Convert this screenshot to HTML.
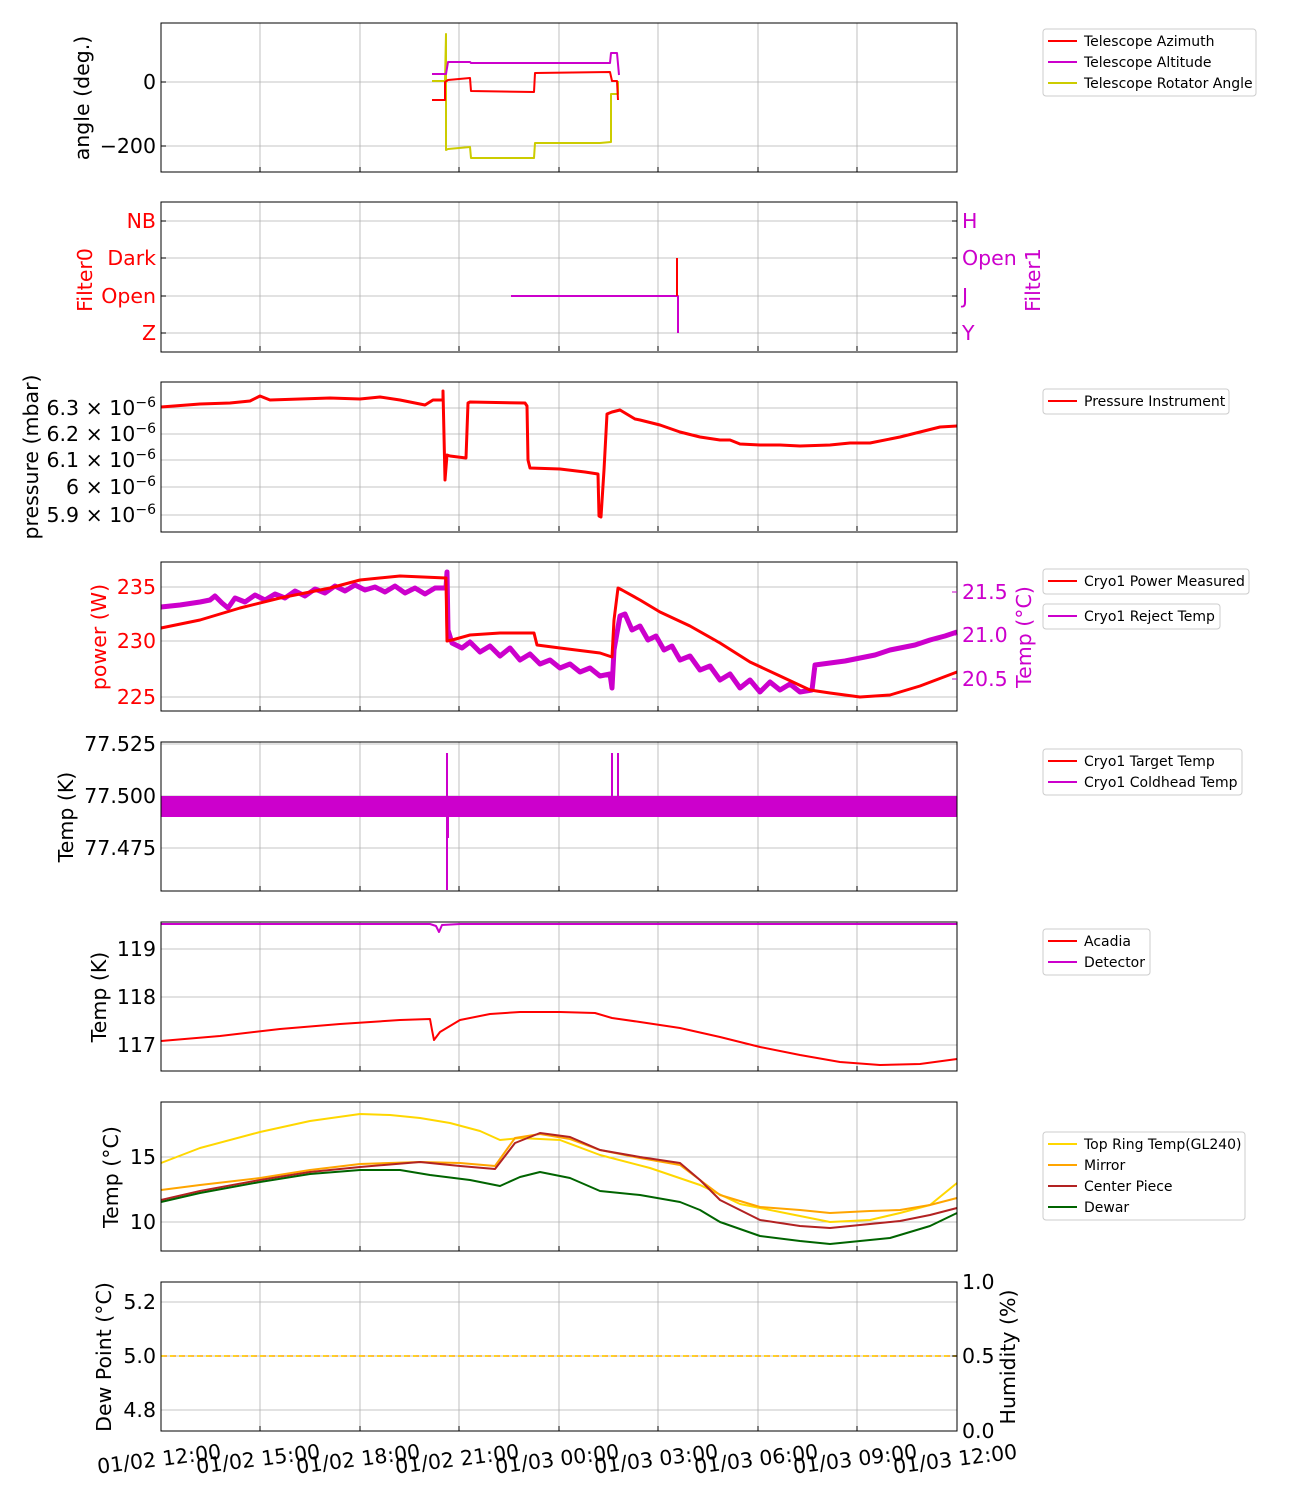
<!DOCTYPE html>
<html><head><meta charset="utf-8"><style>
html,body{margin:0;padding:0;background:#fff}
svg{display:block;font-family:"DejaVu Sans","Liberation Sans",sans-serif}
.g{stroke:#b0b0b0;stroke-width:0.8}
.fr{fill:none;stroke:#000;stroke-width:1}
.tl{font-size:20.5px}
.lg{font-size:14px}
.lb{fill:#fff;stroke:#ccc;stroke-width:1}
polyline{fill:none;stroke-linejoin:round}
</style></head><body>
<svg width="1300" height="1500" viewBox="0 0 1300 1500" xmlns="http://www.w3.org/2000/svg">
<defs>
<g id="vg">
<line class="g" x1="260" y1="0" x2="260" y2="149"/><line class="g" x1="360" y1="0" x2="360" y2="149"/>
<line class="g" x1="459" y1="0" x2="459" y2="149"/><line class="g" x1="559" y1="0" x2="559" y2="149"/>
<line class="g" x1="658" y1="0" x2="658" y2="149"/><line class="g" x1="758" y1="0" x2="758" y2="149"/>
<line class="g" x1="857" y1="0" x2="857" y2="149"/>
<g stroke="#000" stroke-width="1">
<line x1="260" y1="149" x2="260" y2="144"/><line x1="360" y1="149" x2="360" y2="144"/><line x1="459" y1="149" x2="459" y2="144"/><line x1="559" y1="149" x2="559" y2="144"/><line x1="658" y1="149" x2="658" y2="144"/><line x1="758" y1="149" x2="758" y2="144"/><line x1="857" y1="149" x2="857" y2="144"/>
</g>
</g>
</defs>

<!-- Panel 1 -->
<use href="#vg" y="23"/>
<line class="g" x1="161" y1="82" x2="957" y2="82"/><line class="g" x1="161" y1="146" x2="957" y2="146"/>
<polyline stroke="#cc0" stroke-width="2" points="432,81 445,81 446,34 446,150 448,149 470,147 471,158 534,158 535,143 600,143 611,142 611,94 618,94 618,81"/>
<polyline stroke="#c0c" stroke-width="2" points="432,74 446,74 448,62 470,62 471,63 610,63 611,53 617,53 619,75"/>
<polyline stroke="#f00" stroke-width="2" points="432,100 445,100 445,82 448,80 470,78 471,91 534,92 535,73 610,72 612,81 617,81 618,100"/>
<rect class="fr" x="161" y="23" width="796" height="149"/>
<g stroke="#000"><line x1="161" y1="82" x2="166" y2="82"/><line x1="161" y1="146" x2="166" y2="146"/></g>
<text class="tl" x="156" y="89" text-anchor="end">0</text>
<text class="tl" x="156" y="153" text-anchor="end">−200</text>
<text class="tl" transform="translate(89,98) rotate(-90)" text-anchor="middle">angle (deg.)</text>
<rect class="lb" x="1043" y="29" width="213" height="67" rx="3"/>
<line x1="1048" y1="41" x2="1077" y2="41" stroke="#f00" stroke-width="2"/><text class="lg" x="1084" y="46">Telescope Azimuth</text>
<line x1="1048" y1="62" x2="1077" y2="62" stroke="#c0c" stroke-width="2"/><text class="lg" x="1084" y="67">Telescope Altitude</text>
<line x1="1048" y1="83" x2="1077" y2="83" stroke="#cc0" stroke-width="2"/><text class="lg" x="1084" y="88">Telescope Rotator Angle</text>

<!-- Panel 2 -->
<use href="#vg" y="202"/>
<line class="g" x1="161" y1="221" x2="957" y2="221"/><line class="g" x1="161" y1="258" x2="957" y2="258"/>
<line class="g" x1="161" y1="296" x2="957" y2="296"/><line class="g" x1="161" y1="333" x2="957" y2="333"/>
<polyline stroke="#c0c" stroke-width="2" points="511,296 678,296 678,333"/>
<polyline stroke="#f00" stroke-width="2" points="677,296 677,258"/>
<rect class="fr" x="161" y="202" width="796" height="150"/>
<g stroke="#000"><line x1="161" y1="221" x2="166" y2="221"/><line x1="161" y1="258" x2="166" y2="258"/><line x1="161" y1="296" x2="166" y2="296"/><line x1="161" y1="333" x2="166" y2="333"/>
<line x1="957" y1="221" x2="952" y2="221"/><line x1="957" y1="258" x2="952" y2="258"/><line x1="957" y1="296" x2="952" y2="296"/><line x1="957" y1="333" x2="952" y2="333"/></g>
<g fill="#f00" class="tl" text-anchor="end">
<text x="156" y="228">NB</text><text x="156" y="265">Dark</text><text x="156" y="303">Open</text><text x="156" y="340">Z</text></g>
<g fill="#c0c" class="tl">
<text x="962" y="228">H</text><text x="962" y="265">Open</text><text x="962" y="303">J</text><text x="962" y="340">Y</text></g>
<text class="tl" fill="#f00" transform="translate(92,280) rotate(-90)" text-anchor="middle">Filter0</text>
<text class="tl" fill="#c0c" transform="translate(1040,280) rotate(-90)" text-anchor="middle">Filter1</text>

<!-- Panel 3 -->
<use href="#vg" y="382"/>
<line class="g" x1="161" y1="408" x2="957" y2="408"/><line class="g" x1="161" y1="434" x2="957" y2="434"/>
<line class="g" x1="161" y1="460" x2="957" y2="460"/><line class="g" x1="161" y1="487" x2="957" y2="487"/><line class="g" x1="161" y1="515" x2="957" y2="515"/>
<polyline stroke="#f00" stroke-width="3" points="161,407 200,404 230,403 250,401 260,396 270,400 300,399 330,398 360,399 380,397 400,400 425,405 433,400 443,400 443,391 445,480 447,455 450,456 466,458 468,403 470,402 525,403 527,406 528,460 530,468 560,469 585,472 598,474 599,516 601,517 604,470 607,414 612,412 620,410 635,419 640,420 660,425 680,432 700,437 720,440 730,440 740,444 760,445 780,445 800,446 830,445 850,443 870,443 900,437 920,432 940,427 957,426"/>
<rect class="fr" x="161" y="382" width="796" height="150"/>
<g class="tl" text-anchor="end">
<text x="156" y="415">6.3 × 10<tspan font-size="14" dy="-8">−6</tspan></text>
<text x="156" y="441">6.2 × 10<tspan font-size="14" dy="-8">−6</tspan></text>
<text x="156" y="467">6.1 × 10<tspan font-size="14" dy="-8">−6</tspan></text>
<text x="156" y="494">6 × 10<tspan font-size="14" dy="-8">−6</tspan></text>
<text x="156" y="522">5.9 × 10<tspan font-size="14" dy="-8">−6</tspan></text></g>
<text class="tl" transform="translate(38,457) rotate(-90)" text-anchor="middle">pressure (mbar)</text>
<rect class="lb" x="1043" y="389" width="186" height="25" rx="3"/>
<line x1="1048" y1="401" x2="1077" y2="401" stroke="#f00" stroke-width="2"/><text class="lg" x="1084" y="406">Pressure Instrument</text>

<!-- Panel 4 -->
<use href="#vg" y="562"/>
<line class="g" x1="161" y1="587" x2="957" y2="587"/><line class="g" x1="161" y1="641" x2="957" y2="641"/><line class="g" x1="161" y1="697" x2="957" y2="697"/>
<polyline stroke="#c0c" stroke-width="5" points="161,607 180,605 200,602 210,600 215,596 222,603 228,608 235,598 245,602 255,595 265,600 275,594 285,598 295,591 305,596 315,589 325,593 335,586 345,591 355,585 365,590 375,587 385,592 395,586 405,593 415,588 425,594 435,588 446,588 447,572 448,630 452,643 462,648 470,642 480,652 490,646 500,656 510,648 520,660 530,654 540,664 550,660 560,668 570,664 580,672 590,668 600,676 610,674 612,688 614,650 620,616 625,614 632,630 640,626 648,640 656,636 664,650 672,646 680,660 690,656 700,670 710,666 720,680 730,674 740,688 750,680 760,692 770,682 780,690 790,684 800,692 812,690 815,665 830,663 845,661 860,658 875,655 890,650 900,648 915,645 930,640 945,636 957,632"/>
<polyline stroke="#f00" stroke-width="3" points="161,628 200,620 240,608 280,598 330,588 360,580 400,576 446,578 447,641 452,640 470,635 500,633 534,633 537,645 560,648 600,653 612,657 614,620 618,588 622,590 640,600 660,612 690,626 720,643 750,662 780,676 810,690 830,693 860,697 890,695 920,686 957,672"/>
<rect class="fr" x="161" y="562" width="796" height="149"/>
<g class="tl" fill="#f00" text-anchor="end"><text x="156" y="594">235</text><text x="156" y="648">230</text><text x="156" y="704">225</text></g>
<g class="tl" fill="#c0c"><text x="962" y="599">21.5</text><text x="962" y="642">21.0</text><text x="962" y="686">20.5</text></g>
<g stroke="#c0c"><line x1="957" y1="592" x2="952" y2="592"/><line x1="957" y1="635" x2="952" y2="635"/><line x1="957" y1="679" x2="952" y2="679"/></g>
<text class="tl" fill="#f00" transform="translate(106,637) rotate(-90)" text-anchor="middle">power (W)</text>
<text class="tl" fill="#c0c" transform="translate(1031,637) rotate(-90)" text-anchor="middle">Temp (°C)</text>
<rect class="lb" x="1043" y="569" width="206" height="25" rx="3"/>
<line x1="1048" y1="581" x2="1077" y2="581" stroke="#f00" stroke-width="2"/><text class="lg" x="1084" y="586">Cryo1 Power Measured</text>
<rect class="lb" x="1043" y="604" width="177" height="25" rx="3"/>
<line x1="1048" y1="616" x2="1077" y2="616" stroke="#c0c" stroke-width="2"/><text class="lg" x="1084" y="621">Cryo1 Reject Temp</text>

<!-- Panel 5 -->
<use href="#vg" y="742"/>
<line class="g" x1="161" y1="744" x2="957" y2="744"/><line class="g" x1="161" y1="796" x2="957" y2="796"/><line class="g" x1="161" y1="848" x2="957" y2="848"/>
<rect x="161" y="796" width="796" height="21" fill="#c0c"/>
<polyline stroke="#c0c" stroke-width="2" points="447,753 447,890"/>
<polyline stroke="#c0c" stroke-width="2" points="448,810 448,838"/>
<polyline stroke="#c0c" stroke-width="2" points="612,753 612,817"/>
<polyline stroke="#c0c" stroke-width="2" points="618,753 618,817"/>
<rect class="fr" x="161" y="742" width="796" height="149"/>
<g class="tl" text-anchor="end"><text x="156" y="751">77.525</text><text x="156" y="803">77.500</text><text x="156" y="855">77.475</text></g>
<text class="tl" transform="translate(73,817) rotate(-90)" text-anchor="middle">Temp (K)</text>
<rect class="lb" x="1043" y="749" width="199" height="46" rx="3"/>
<line x1="1048" y1="761" x2="1077" y2="761" stroke="#f00" stroke-width="2"/><text class="lg" x="1084" y="766">Cryo1 Target Temp</text>
<line x1="1048" y1="782" x2="1077" y2="782" stroke="#c0c" stroke-width="2"/><text class="lg" x="1084" y="787">Cryo1 Coldhead Temp</text>

<!-- Panel 6 -->
<use href="#vg" y="922"/>
<line class="g" x1="161" y1="949" x2="957" y2="949"/><line class="g" x1="161" y1="997" x2="957" y2="997"/><line class="g" x1="161" y1="1045" x2="957" y2="1045"/>
<polyline stroke="#c0c" stroke-width="2" points="161,924 430,924 436,926 439,932 442,925 460,924 957,924"/>
<polyline stroke="#f00" stroke-width="2" points="161,1041 220,1036 280,1029 340,1024 400,1020 430,1019 432,1030 434,1040 440,1032 450,1026 460,1020 490,1014 520,1012 560,1012 595,1013 612,1018 640,1022 680,1028 720,1037 760,1047 800,1055 840,1062 880,1065 920,1064 957,1059"/>
<rect class="fr" x="161" y="922" width="796" height="149"/>
<g class="tl" text-anchor="end"><text x="156" y="956">119</text><text x="156" y="1004">118</text><text x="156" y="1052">117</text></g>
<text class="tl" transform="translate(106,997) rotate(-90)" text-anchor="middle">Temp (K)</text>
<rect class="lb" x="1043" y="929" width="107" height="46" rx="3"/>
<line x1="1048" y1="941" x2="1077" y2="941" stroke="#f00" stroke-width="2"/><text class="lg" x="1084" y="946">Acadia</text>
<line x1="1048" y1="962" x2="1077" y2="962" stroke="#c0c" stroke-width="2"/><text class="lg" x="1084" y="967">Detector</text>

<!-- Panel 7 -->
<use href="#vg" y="1102"/>
<line class="g" x1="161" y1="1157" x2="957" y2="1157"/><line class="g" x1="161" y1="1222" x2="957" y2="1222"/>
<polyline stroke="#ffd700" stroke-width="2" points="161,1163 200,1148 260,1132 310,1121 360,1114 390,1115 420,1118 450,1123 480,1131 500,1140 520,1138 560,1140 600,1155 650,1168 700,1185 740,1204 790,1214 830,1222 870,1220 900,1213 930,1205 957,1183"/>
<polyline stroke="#ffa500" stroke-width="2" points="161,1190 200,1185 260,1178 310,1170 360,1164 420,1162 460,1163 495,1166 515,1138 540,1134 570,1139 600,1150 640,1158 680,1165 720,1195 760,1207 800,1210 830,1213 870,1211 900,1210 930,1205 957,1198"/>
<polyline stroke="#b22222" stroke-width="2" points="161,1200 200,1191 260,1180 310,1172 360,1167 420,1162 460,1166 495,1169 515,1143 540,1133 570,1137 600,1150 640,1157 680,1163 700,1180 720,1200 760,1220 800,1226 830,1228 870,1224 900,1221 930,1215 957,1208"/>
<polyline stroke="#006400" stroke-width="2" points="161,1202 200,1193 260,1182 310,1174 360,1170 400,1170 430,1175 470,1180 500,1186 520,1177 540,1172 570,1178 600,1191 640,1195 680,1202 700,1210 720,1222 760,1236 800,1241 830,1244 860,1241 890,1238 930,1226 957,1213"/>
<rect class="fr" x="161" y="1102" width="796" height="149"/>
<g class="tl" text-anchor="end"><text x="156" y="1164">15</text><text x="156" y="1229">10</text></g>
<text class="tl" transform="translate(118,1177) rotate(-90)" text-anchor="middle">Temp (°C)</text>
<rect class="lb" x="1043" y="1132" width="202" height="88" rx="3"/>
<line x1="1048" y1="1144" x2="1077" y2="1144" stroke="#ffd700" stroke-width="2"/><text class="lg" x="1084" y="1149">Top Ring Temp(GL240)</text>
<line x1="1048" y1="1165" x2="1077" y2="1165" stroke="#ffa500" stroke-width="2"/><text class="lg" x="1084" y="1170">Mirror</text>
<line x1="1048" y1="1186" x2="1077" y2="1186" stroke="#b22222" stroke-width="2"/><text class="lg" x="1084" y="1191">Center Piece</text>
<line x1="1048" y1="1207" x2="1077" y2="1207" stroke="#006400" stroke-width="2"/><text class="lg" x="1084" y="1212">Dewar</text>

<!-- Panel 8 -->
<use href="#vg" y="1282"/>
<line class="g" x1="161" y1="1302" x2="957" y2="1302"/><line class="g" x1="161" y1="1356" x2="957" y2="1356"/><line class="g" x1="161" y1="1410" x2="957" y2="1410"/>
<line x1="161" y1="1356" x2="957" y2="1356" stroke="#ffa500" stroke-width="1.5" stroke-dasharray="6,3"/>
<line x1="161" y1="1356" x2="957" y2="1356" stroke="#ffd700" stroke-width="1.5" stroke-dasharray="3,6"/>
<rect class="fr" x="161" y="1282" width="796" height="149"/>
<g class="tl" text-anchor="end"><text x="156" y="1309">5.2</text><text x="156" y="1363">5.0</text><text x="156" y="1417">4.8</text></g>
<g class="tl"><text x="962" y="1289">1.0</text><text x="962" y="1363">0.5</text><text x="962" y="1438">0.0</text></g>
<g stroke="#000"><line x1="957" y1="1282" x2="952" y2="1282"/><line x1="957" y1="1356" x2="952" y2="1356"/><line x1="957" y1="1431" x2="952" y2="1431"/></g>
<text class="tl" transform="translate(111,1357) rotate(-90)" text-anchor="middle">Dew Point (°C)</text>
<text class="tl" transform="translate(1015,1357) rotate(-90)" text-anchor="middle">Humidity (%)</text>

<!-- X labels -->
<g class="tl" text-anchor="middle">
<text transform="translate(160,1466) rotate(-7)">01/02 12:00</text>
<text transform="translate(259,1466) rotate(-7)">01/02 15:00</text>
<text transform="translate(359,1466) rotate(-7)">01/02 18:00</text>
<text transform="translate(458,1466) rotate(-7)">01/02 21:00</text>
<text transform="translate(558,1466) rotate(-7)">01/03 00:00</text>
<text transform="translate(657,1466) rotate(-7)">01/03 03:00</text>
<text transform="translate(757,1466) rotate(-7)">01/03 06:00</text>
<text transform="translate(856,1466) rotate(-7)">01/03 09:00</text>
<text transform="translate(956,1466) rotate(-7)">01/03 12:00</text>
</g>
</svg>
</body></html>
